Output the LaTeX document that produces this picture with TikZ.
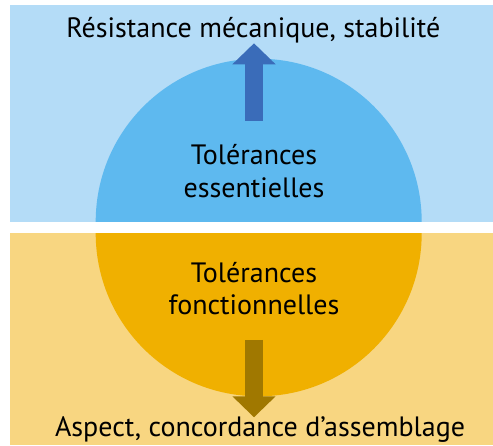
\documentclass[tikz,border=0pt]{standalone}
\usepackage{fontspec}
\setmainfont{PT Sans}
\usepackage{tikz}
\usetikzlibrary{arrows.meta}

\definecolor{blueband}{HTML}{B4DCF7}
\definecolor{bluedisc}{HTML}{5EB9EF}
\definecolor{bluearrow}{HTML}{3A6CB9}
\definecolor{orangeband}{HTML}{F8D681}
\definecolor{orangedisc}{HTML}{F0B000}
\definecolor{orangearrow}{HTML}{A07800}

\begin{document}
\begin{tikzpicture}[x=1pt, y=1pt,
    label/.style={font=\fontsize{28}{33}\selectfont, text=black, inner sep=0pt, align=center},
    blockarrow/.style={line width=17.7pt, -{Triangle[length=21pt, width=42pt]}}]
    \useasboundingbox (0, 0) rectangle (493, 445);

    % draw bands
    \fill[blueband] (10, 223.3) rectangle (493, 440);
    \fill[orangeband] (10, 0) rectangle (493, 211.7);

    % draw half discs
    \begin{scope}
      \clip (10, 223.3) rectangle (493, 440);
      \fill[bluedisc] (258.7, 223.3) circle [radius = 163];
    \end{scope}
    \begin{scope}
      \clip (10, 0) rectangle (493, 211.7);
      \fill[orangedisc] (258.7, 211.7) circle [radius = 163];
    \end{scope}

    % draw arrows
    \coordinate (upstart) at (254, 324.3);
    \coordinate (upend) at (254, 401.7);
    \coordinate (downstart) at (254, 105);
    \coordinate (downend) at (254, 27.7);
    \draw[blockarrow, bluearrow] (upstart) -- (upend);
    \draw[blockarrow, orangearrow] (downstart) -- (downend);

    % draw symbols
    \node[label, anchor = base] (strength) at (253.3, 407.7) {Résistance mécanique, stabilité};
    \node[label, anchor = base] (essential) at (254, 247) {Tolérances\\essentielles};
    \node[label, anchor = base] (functional) at (254, 130) {Tolérances\\fonctionnelles};
    \node[label, anchor = base] (looks) at (260, 8.3) {Aspect, concordance d’assemblage};

\end{tikzpicture}
\end{document}
